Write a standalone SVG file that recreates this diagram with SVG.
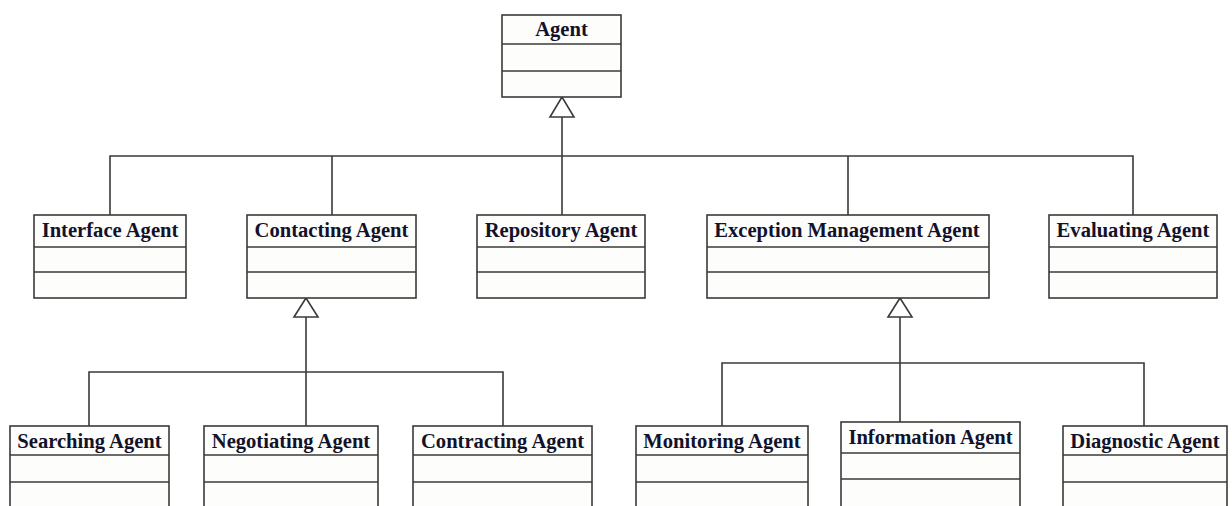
<svg xmlns="http://www.w3.org/2000/svg" width="1232" height="506" viewBox="0 0 1232 506">
<style>
.box{fill:#fdfdfc;stroke:#3a3a3a;stroke-width:1.6}
.div{stroke:#3a3a3a;stroke-width:1.6}
.conn{fill:none;stroke:#3a3a3a;stroke-width:1.6}
.tri{fill:#ffffff;stroke:#3a3a3a;stroke-width:1.6;stroke-linejoin:miter}
text{font-family:"Liberation Serif","Times New Roman",serif;font-weight:bold;font-size:20.6px;fill:#12122a;text-anchor:middle}
</style>
<rect width="1232" height="506" fill="#ffffff"/>
<g id="connectors">
<path class="conn" d="M562 117 V215 M110 215 V156 H1133 V215 M332 156 V215 M848 156 V215"/>
<polygon class="tri" points="562,97 550,117 574,117"/>
<path class="conn" d="M306 317 V426 M89 426 V372 H503 V426"/>
<polygon class="tri" points="306,298 294,317 318,317"/>
<path class="conn" d="M900 317 V422 M722 426 V363 H1144 V426"/>
<polygon class="tri" points="900,298 888,317 912,317"/>
</g>
<g id="agent"><rect class="box" x="502" y="15" width="119" height="82"/><line class="div" x1="502" y1="44" x2="621" y2="44"/><line class="div" x1="502" y1="71" x2="621" y2="71"/><text x="561.5" y="36">Agent</text></g>
<g id="interface-agent"><rect class="box" x="34" y="215" width="152" height="83"/><line class="div" x1="34" y1="247" x2="186" y2="247"/><line class="div" x1="34" y1="272" x2="186" y2="272"/><text x="110" y="237">Interface Agent</text></g>
<g id="contacting-agent"><rect class="box" x="247" y="215" width="169" height="83"/><line class="div" x1="247" y1="247" x2="416" y2="247"/><line class="div" x1="247" y1="272" x2="416" y2="272"/><text x="331.5" y="237">Contacting Agent</text></g>
<g id="repository-agent"><rect class="box" x="477" y="215" width="168" height="83"/><line class="div" x1="477" y1="247" x2="645" y2="247"/><line class="div" x1="477" y1="272" x2="645" y2="272"/><text x="561" y="237">Repository Agent</text></g>
<g id="exception-management-agent"><rect class="box" x="707" y="215" width="282" height="83"/><line class="div" x1="707" y1="247" x2="989" y2="247"/><line class="div" x1="707" y1="272" x2="989" y2="272"/><text x="847" y="237">Exception Management Agent</text></g>
<g id="evaluating-agent"><rect class="box" x="1049" y="215" width="168" height="83"/><line class="div" x1="1049" y1="247" x2="1217" y2="247"/><line class="div" x1="1049" y1="272" x2="1217" y2="272"/><text x="1133" y="237">Evaluating Agent</text></g>
<g id="searching-agent"><rect class="box" x="10" y="426" width="159" height="100"/><line class="div" x1="10" y1="455" x2="169" y2="455"/><line class="div" x1="10" y1="482" x2="169" y2="482"/><text x="89.5" y="448">Searching Agent</text></g>
<g id="negotiating-agent"><rect class="box" x="204" y="426" width="174" height="100"/><line class="div" x1="204" y1="455" x2="378" y2="455"/><line class="div" x1="204" y1="482" x2="378" y2="482"/><text x="291" y="448">Negotiating Agent</text></g>
<g id="contracting-agent"><rect class="box" x="413" y="426" width="179" height="100"/><line class="div" x1="413" y1="455" x2="592" y2="455"/><line class="div" x1="413" y1="482" x2="592" y2="482"/><text x="502.5" y="448">Contracting Agent</text></g>
<g id="monitoring-agent"><rect class="box" x="636" y="426" width="172" height="100"/><line class="div" x1="636" y1="455" x2="808" y2="455"/><line class="div" x1="636" y1="482" x2="808" y2="482"/><text x="722" y="448">Monitoring Agent</text></g>
<g id="information-agent"><rect class="box" x="841" y="422" width="179" height="100"/><line class="div" x1="841" y1="453" x2="1020" y2="453"/><line class="div" x1="841" y1="479" x2="1020" y2="479"/><text x="930.5" y="444">Information Agent</text></g>
<g id="diagnostic-agent"><rect class="box" x="1063" y="426" width="164" height="100"/><line class="div" x1="1063" y1="455" x2="1227" y2="455"/><line class="div" x1="1063" y1="482" x2="1227" y2="482"/><text x="1145" y="448">Diagnostic Agent</text></g>
</svg>
